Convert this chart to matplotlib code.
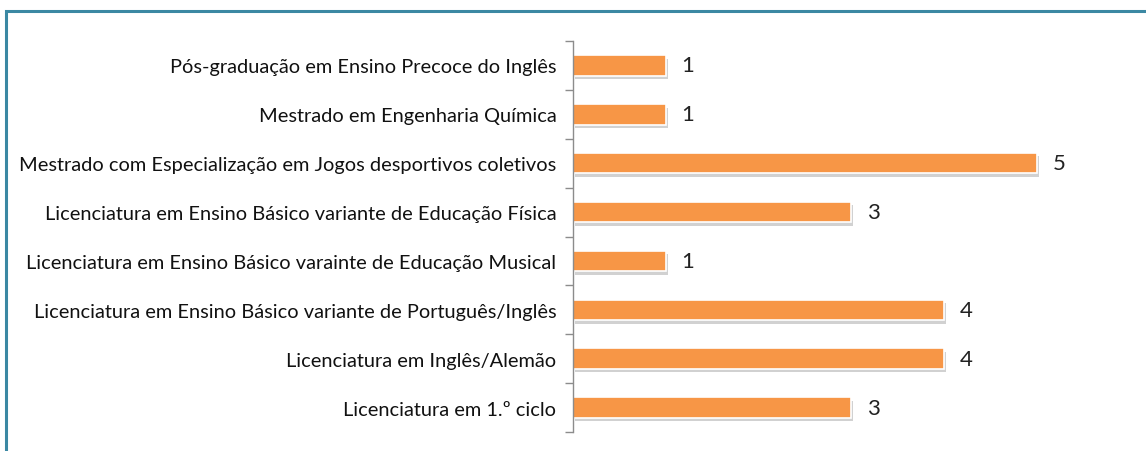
import matplotlib.pyplot as plt
import matplotlib.patheffects as pe
from matplotlib.patches import Rectangle

categories = [
    "Pós-graduação em Ensino Precoce do Inglês",
    "Mestrado em Engenharia Química",
    "Mestrado com Especialização em Jogos desportivos coletivos",
    "Licenciatura em Ensino Básico variante de Educação Física",
    "Licenciatura em Ensino Básico varainte de Educação Musical",
    "Licenciatura em Ensino Básico variante de Português/Inglês",
    "Licenciatura em Inglês/Alemão",
    "Licenciatura em 1.º ciclo",
]
values = [1, 1, 5, 3, 1, 4, 4, 3]

plt.rcParams['font.family'] = ['Lato', 'DejaVu Sans']

fig = plt.figure(figsize=(11.46, 4.52), dpi=100)

# frame around the chart (top and left edges visible)
fig.patches.append(Rectangle((6 / 1146, -0.1), 1.2, 1 - 12 / 452 + 0.1,
                             transform=fig.transFigure, fill=False,
                             edgecolor='#3b88a3', linewidth=2.2))

ax = fig.add_axes([573 / 1146, 1 - 433 / 452, 1 - 573 / 1146, (433 - 42) / 452])

y = range(len(categories))
bars = ax.barh(y, values, height=0.42, color='#f79646', edgecolor='white', linewidth=1.2)
for b in bars:
    b.set_path_effects([pe.SimplePatchShadow(offset=(1.5, -2.5), shadow_rgbFace='#999999', alpha=0.45),
                        pe.Normal()])

for i, v in enumerate(values):
    ax.text(v + 0.17, i, str(v), va='center', ha='left', fontsize=16, color='#222222')

ax.set_xlim(0, 6.18)
ax.set_ylim(len(categories) - 0.5, -0.5)

ax.set_yticks(list(y))
ax.set_yticklabels(categories, fontsize=14.4, color='#111111')
ax.set_yticks([i - 0.5 for i in range(len(categories) + 1)], minor=True)
ax.tick_params(axis='y', which='major', length=0, pad=12)
ax.tick_params(axis='y', which='minor', length=6, color='#8c8c8c', width=1)
ax.set_xticks([])

for s in ['top', 'right', 'bottom']:
    ax.spines[s].set_visible(False)
ax.spines['left'].set_color('#8c8c8c')
ax.spines['left'].set_linewidth(1)

fig.savefig('out.png', dpi=100)
